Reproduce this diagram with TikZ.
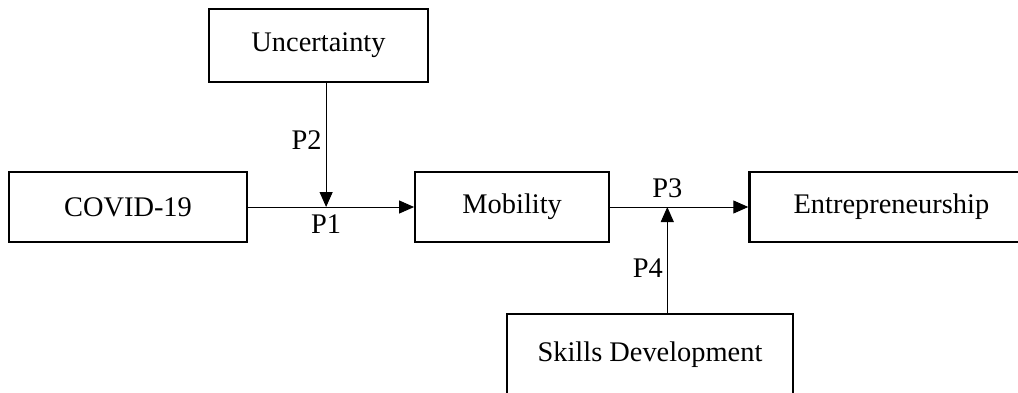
\documentclass[tikz,border=0pt]{standalone}
\usepackage{fontspec}
\setmainfont{Liberation Serif}
\usetikzlibrary{positioning,arrows.meta,calc}

\begin{document}
\begin{tikzpicture}[
  x=0.5pt, y=-0.5pt,
  box/.style={draw, line width=1.1pt, inner sep=0pt, align=center,
              font=\fontsize{14.2}{17}\selectfont},
  arr/.style={-{Triangle[length=7.5pt,width=6.5pt]}, line width=0.5pt},
  plab/.style={font=\fontsize{14.2}{17}\selectfont, inner sep=2pt}
]
  \clip (0,0) rectangle (1018,392);

  \node[box, minimum width=119pt, minimum height=35pt] (covid) at (128,207) {COVID-19};
  \node[box, minimum width=97pt, minimum height=35pt, right=83pt of covid] (mob) {Mobility};
  \node[box, minimum width=142pt, minimum height=35pt, right=69pt of mob] (entr) {Entrepreneurship};

  \node[box, minimum width=109.5pt, minimum height=36.5pt] (unc) at (318.5,45.5) {Uncertainty};
  \node[box, minimum width=143pt, minimum height=41pt] (skills) at (650,355) {Skills Development};

  \draw[arr] (covid.east) -- (mob.west);
  \draw[arr] (mob.east) -- (entr.west);

  \coordinate (m1) at ($(covid.east)!0.47!(mob.west)$);
  \coordinate (m2) at ($(mob.east)!0.413!(entr.west)$);

  \draw[arr] (unc.south -| m1) -- node[plab, left, pos=0.46] (p2) {P2} (m1);
  \draw[arr] (skills.north -| m2) -- node[plab, left, pos=0.42] (p4) {P4} (m2);

  \node[plab, below=1.5pt of m1] (p1) {P1};
  \node[plab, above=2.5pt of m2] (p3) {P3};
\end{tikzpicture}
\end{document}
